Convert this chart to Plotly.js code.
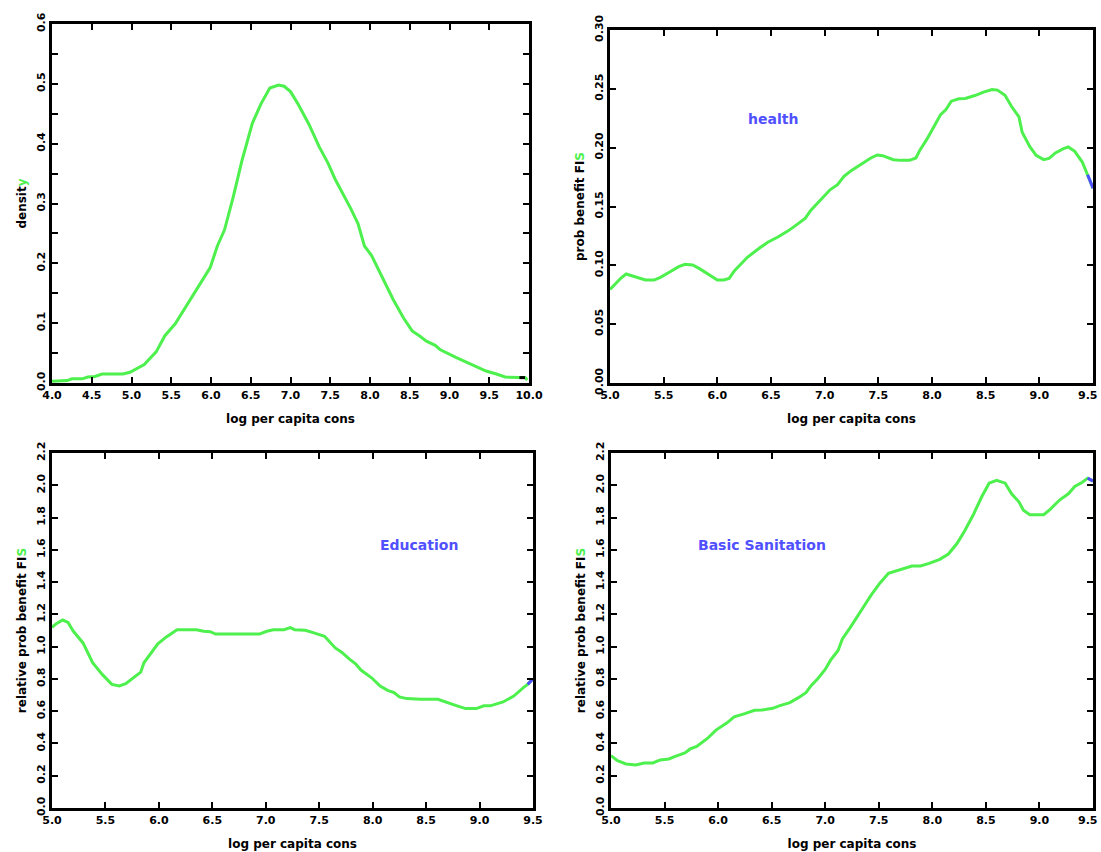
<!DOCTYPE html>
<html>
<head>
<meta charset="utf-8">
<script src="https://cdn.plot.ly/plotly-3.0.1.min.js"></script>
<style>html,body{margin:0;padding:0;background:#fff;}#chart{width:1101px;height:852px;}</style>
</head>
<body>
<div id="chart"></div>
<script>
// ---- Data ----
const densityX = [4.00,4.19,4.25,4.38,4.45,4.54,4.63,4.89,4.98,5.16,5.31,5.42,5.55,5.69,5.86,5.99,6.08,6.17,6.28,6.39,6.52,6.63,6.74,6.85,6.92,7.00,7.10,7.23,7.36,7.47,7.56,7.65,7.76,7.85,7.93,8.02,8.16,8.29,8.42,8.53,8.62,8.71,8.82,8.88,9.08,9.26,9.46,9.59,9.70,9.88,9.95,9.98];
const densityY = [0.003,0.004,0.007,0.007,0.010,0.011,0.015,0.015,0.018,0.031,0.052,0.079,0.099,0.129,0.164,0.193,0.229,0.256,0.311,0.372,0.434,0.467,0.493,0.498,0.496,0.487,0.465,0.433,0.395,0.368,0.341,0.319,0.291,0.266,0.229,0.213,0.176,0.140,0.109,0.087,0.079,0.070,0.063,0.056,0.043,0.032,0.020,0.015,0.010,0.009,0.009,0.005];

const healthX = [5.00,5.05,5.10,5.15,5.21,5.33,5.41,5.47,5.56,5.64,5.70,5.77,5.83,5.92,6.00,6.06,6.11,6.16,6.28,6.39,6.47,6.56,6.66,6.75,6.82,6.87,6.95,7.05,7.12,7.18,7.25,7.35,7.43,7.49,7.54,7.64,7.71,7.79,7.85,7.89,7.95,8.02,8.08,8.13,8.18,8.25,8.31,8.40,8.48,8.56,8.61,8.68,8.74,8.81,8.84,8.91,8.97,9.04,9.09,9.15,9.22,9.27,9.33,9.40,9.45,9.50];
const healthY = [0.0795,0.0847,0.0890,0.0926,0.0909,0.0875,0.0875,0.0898,0.0946,0.0989,0.1009,0.1003,0.0974,0.0918,0.0875,0.0875,0.0889,0.0955,0.1068,0.1145,0.1196,0.1239,0.1293,0.1352,0.1401,0.1466,0.1543,0.1642,0.1685,0.1756,0.1807,0.1864,0.1912,0.1938,0.1932,0.1898,0.1892,0.1892,0.1912,0.1983,0.2068,0.2182,0.2281,0.2324,0.2395,0.2415,0.2418,0.2443,0.2472,0.2494,0.2489,0.2446,0.2352,0.2261,0.2131,0.2011,0.1935,0.1898,0.1909,0.1955,0.1989,0.2006,0.1969,0.1878,0.1770,0.1656];

const eduX = [5.00,5.04,5.10,5.15,5.20,5.29,5.38,5.47,5.56,5.63,5.69,5.76,5.83,5.86,5.92,5.99,6.07,6.17,6.35,6.42,6.48,6.53,6.65,6.94,7.01,7.07,7.17,7.23,7.27,7.37,7.45,7.55,7.65,7.71,7.78,7.84,7.89,7.99,8.07,8.14,8.20,8.25,8.32,8.45,8.61,8.71,8.79,8.87,8.97,9.04,9.10,9.22,9.32,9.41,9.45,9.50];
const eduY = [1.120,1.142,1.165,1.150,1.095,1.023,0.900,0.828,0.766,0.756,0.770,0.807,0.842,0.900,0.955,1.017,1.060,1.105,1.105,1.095,1.093,1.078,1.078,1.078,1.095,1.105,1.105,1.118,1.105,1.101,1.085,1.064,0.992,0.966,0.924,0.894,0.855,0.807,0.756,0.729,0.715,0.688,0.678,0.674,0.674,0.649,0.633,0.616,0.616,0.633,0.633,0.657,0.694,0.746,0.766,0.801];

const sanX = [5.00,5.06,5.14,5.23,5.31,5.39,5.46,5.54,5.60,5.69,5.74,5.80,5.90,5.98,6.08,6.15,6.25,6.34,6.41,6.51,6.57,6.67,6.75,6.82,6.87,6.93,7.00,7.05,7.12,7.16,7.23,7.30,7.36,7.43,7.51,7.59,7.67,7.74,7.81,7.89,7.97,8.07,8.15,8.23,8.30,8.38,8.46,8.53,8.60,8.68,8.74,8.81,8.85,8.91,9.04,9.10,9.19,9.27,9.33,9.40,9.45,9.50];
const sanY = [0.325,0.294,0.273,0.267,0.279,0.279,0.298,0.304,0.320,0.341,0.366,0.382,0.431,0.483,0.526,0.565,0.585,0.606,0.608,0.618,0.633,0.653,0.684,0.715,0.760,0.801,0.859,0.916,0.976,1.048,1.115,1.191,1.249,1.321,1.393,1.454,1.471,1.485,1.500,1.500,1.516,1.541,1.574,1.639,1.715,1.814,1.927,2.013,2.030,2.013,1.947,1.896,1.845,1.818,1.818,1.851,1.910,1.947,1.993,2.019,2.044,2.026];

// tick values / labels
const xTicksDensity = [4.0,4.5,5.0,5.5,6.0,6.5,7.0,7.5,8.0,8.5,9.0,9.5,10.0];
const xTicksBenefit = [5.0,5.5,6.0,6.5,7.0,7.5,8.0,8.5,9.0,9.5];
const yTicksDensity = [0.0,0.1,0.2,0.3,0.4,0.5,0.6];
const yTicksHealth = [0.00,0.05,0.10,0.15,0.20,0.25,0.30];
const yTicksRelative = [0.0,0.2,0.4,0.6,0.8,1.0,1.2,1.4,1.6,1.8,2.0,2.2];

const xTitle = 'log per capita cons';
const yTitles = ['densit<span style="color:#4df04d">y</span>',
                 'prob benefit FI<span style="color:#4df04d">S</span>',
                 'relative prob benefit FI<span style="color:#4df04d">S</span>',
                 'relative prob benefit FI<span style="color:#4df04d">S</span>'];
const labels = ['health','Education','Basic Sanitation'];

// ---- Styles ----
const GREEN = '#4df04d', BLUE = '#5050ff';
const FONT = 'DejaVu Sans';

function line(x, y, xa, ya, color) {
  return {x: x, y: y, xaxis: xa, yaxis: ya, type: 'scatter', mode: 'lines',
          line: {color: color, width: 3}, hoverinfo: 'skip'};
}

const traces = [
  line(densityX, densityY, 'x', 'y', GREEN),
  line(densityX.slice(-3, -1), densityY.slice(-3, -1), 'x', 'y', '#000'),
  line(healthX, healthY, 'x2', 'y2', GREEN),
  line(healthX.slice(-2), healthY.slice(-2), 'x2', 'y2', BLUE),
  line(eduX, eduY, 'x3', 'y3', GREEN),
  line(eduX.slice(-2), eduY.slice(-2), 'x3', 'y3', BLUE),
  line(sanX, sanY, 'x4', 'y4', GREEN),
  line(sanX.slice(-2), sanY.slice(-2), 'x4', 'y4', BLUE)
];

const tickFont = {family: FONT, size: 11, color: '#000', weight: 'bold'};
const titleFont = {family: FONT, size: 12, color: '#000', weight: 'bold'};

// hideLast: the last label sits at the page edge, so it is drawn right-aligned as an annotation
function xAxis(domain, range, anchor, vals, hideLast) {
  const text = vals.map(v => v.toFixed(1));
  if (hideLast) text[text.length - 1] = '';
  return {domain: domain, range: range, anchor: anchor, tickmode: 'array', tickvals: vals,
          ticktext: text,
          ticks: 'inside', ticklen: 6, tickwidth: 2, tickcolor: '#000', mirror: 'ticks',
          showline: true, linewidth: 3, linecolor: '#000', showgrid: false, zeroline: false,
          tickfont: tickFont, title: {text: xTitle, font: titleFont, standoff: 14}};
}
function yAxis(domain, range, anchor, vals, digits, title, minor) {
  const a = {domain: domain, range: range, anchor: anchor, tickmode: 'array', tickvals: vals,
          ticktext: vals.map(v => v.toFixed(digits)), ticklabeloverflow: 'allow',
          ticks: 'inside', ticklen: 6, tickwidth: 2, tickcolor: '#000', mirror: 'ticks',
          showline: true, linewidth: 3, linecolor: '#000', showgrid: false, zeroline: false,
          tickangle: -90, tickfont: tickFont, title: {text: title, font: titleFont, standoff: 6}};
  if (minor) a.minor = {dtick: minor, tick0: 0, ticks: 'inside', ticklen: 6, tickwidth: 2, tickcolor: '#000', showgrid: false};
  return a;
}

const dx1 = [52/1101, 529/1101], dx2 = [610/1101, 1093/1101];
const dx3 = [52/1101, 533/1101], dx4 = [611/1101, 1093/1101];
const dyTop1 = [(852-383)/852, (852-24)/852], dyTop2 = [(852-383)/852, (852-30)/852];
const dyBot = [(852-808)/852, (852-453)/852];

const lastTick = xTicksBenefit[xTicksBenefit.length - 1];
function edgeLabel(xref, yBottom) {
  return {xref: xref, yref: 'paper', x: lastTick, y: yBottom, xanchor: 'right', yanchor: 'top',
          xshift: 7, yshift: -4, text: lastTick.toFixed(1), showarrow: false, font: tickFont};
}

const annFont = {family: FONT, size: 14, color: BLUE, weight: 'bold'};
const layout = {
  width: 1101, height: 852, margin: {l: 0, r: 0, t: 0, b: 0},
  paper_bgcolor: '#fff', plot_bgcolor: '#fff', showlegend: false,
  xaxis: xAxis(dx1, [4, 10], 'y', xTicksDensity, false),
  yaxis: yAxis(dyTop1, [0, 0.6], 'x', yTicksDensity, 1, yTitles[0], 0.05),
  xaxis2: xAxis(dx2, [5, 9.5], 'y2', xTicksBenefit, true),
  yaxis2: yAxis(dyTop2, [0, 0.3], 'x2', yTicksHealth, 2, yTitles[1]),
  xaxis3: xAxis(dx3, [5, 9.5], 'y3', xTicksBenefit, false),
  yaxis3: yAxis(dyBot, [0, 2.2], 'x3', yTicksRelative, 1, yTitles[2]),
  xaxis4: xAxis(dx4, [5, 9.5], 'y4', xTicksBenefit, true),
  yaxis4: yAxis(dyBot, [0, 2.2], 'x4', yTicksRelative, 1, yTitles[3]),
  annotations: [
    {xref: 'x2', yref: 'y2', x: 6.52, y: 0.2247, text: labels[0], showarrow: false, font: annFont},
    {xref: 'x3', yref: 'y3', x: 8.43, y: 1.629, text: labels[1], showarrow: false, font: annFont},
    {xref: 'x4', yref: 'y4', x: 6.41, y: 1.629, text: labels[2], showarrow: false, font: annFont},
    edgeLabel('x2', dyTop2[0]),
    edgeLabel('x4', dyBot[0])
  ]
};

Plotly.newPlot('chart', traces, layout, {staticPlot: true, displayModeBar: false});
</script>
</body>
</html>
